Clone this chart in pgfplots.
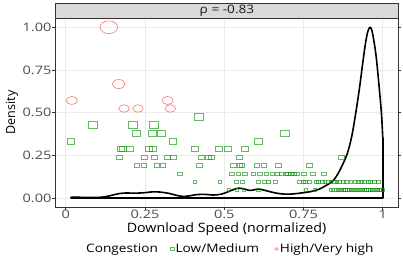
\documentclass[border=0pt]{standalone}
\usepackage{fontspec}
\setmainfont{Open Sans}
\newfontfamily\tickfont{Open Sans}[FakeStretch=1.25]
\newfontfamily\legfont{Open Sans}[FakeStretch=1.17]
\newfontfamily\labfont{Open Sans}[FakeStretch=1.1]
\usepackage{pgfplots}
\pgfplotsset{compat=1.18}
\definecolor{lowgreen}{RGB}{0,140,0}
\definecolor{highred}{RGB}{248,118,109}
\definecolor{gridgray}{RGB}{235,235,235}
\definecolor{ticktext}{RGB}{77,77,77}
\definecolor{stripfill}{RGB}{217,217,217}
\definecolor{bordergray}{RGB}{51,51,51}
\pgfplotsset{dotlegend/.style={legend image code/.code={\draw[##1] plot coordinates {(0bp,0bp)};}}}
\begin{document}
\begin{tikzpicture}
\useasboundingbox (-55bp,-55bp) rectangle (348bp,207bp);
\begin{axis}[
  scale only axis, width=343bp, height=189bp,
  xmin=-0.034, xmax=1.048, ymin=-0.053, ymax=1.054,
  xtick={0,0.25,0.5,0.75,1}, xticklabels={0,0.25,0.5,0.75,1},
  ytick={0,0.25,0.5,0.75,1}, yticklabels={0.00,0.25,0.50,0.75,1.00},
  /pgf/number format/assume math mode=true,
  tick align=outside, major tick length=3bp,
  tick style={bordergray, line width=0.6bp},
  axis line style={bordergray, line width=0.8bp},
  grid=major, major grid style={gridgray, line width=0.6bp},
  ticklabel style={font=\fontsize{11.7}{13}\tickfont, text=ticktext},
  xticklabel style={inner sep=0.5bp, yshift=0.3bp},
  yticklabel style={inner sep=1bp, xshift=0.7bp},
  xlabel={Download Speed (normalized)},
  ylabel={Density},
  xlabel style={at={(axis description cs:0.5,-0.115)}, anchor=center, inner sep=0bp, font=\fontsize{13}{14}\labfont},
  ylabel style={at={(axis description cs:-0.125,0.5)}, anchor=center, inner sep=0bp, font=\fontsize{12.6}{14}\selectfont},
  legend style={at={(axis description cs:0.336,-0.222)}, anchor=west, draw=none, fill=none,
    inner sep=0pt, outer sep=0pt, legend columns=2,
    font=\fontsize{11.7}{13}\legfont,
    nodes={inner sep=1.5bp},
    /tikz/every even column/.append style={column sep=14bp}},
]
% Low/Medium congestion points (y = normalized density level)
\addplot[scatter, only marks, mark=square, forget plot,
  mark options={xscale=1.38, line width=0.6bp},
  scatter/use mapped color={draw=lowgreen, draw opacity=0.6, fill opacity=0},
  visualization depends on={\thisrow{y} \as \ry},
  scatter/@pre marker code/.append style={/tikz/mark size={0.9+5.5*\ry}}]
table {
x y
0.420 0.476
0.085 0.429
0.210 0.429
0.278 0.429
0.223 0.381
0.273 0.381
0.301 0.381
0.691 0.381
0.016 0.333
0.338 0.333
0.607 0.333
0.173 0.286
0.179 0.286
0.202 0.286
0.262 0.286
0.275 0.286
0.406 0.286
0.483 0.286
0.512 0.286
0.565 0.286
0.169 0.238
0.247 0.238
0.278 0.238
0.321 0.238
0.338 0.238
0.428 0.238
0.451 0.238
0.458 0.238
0.546 0.238
0.870 0.238
0.225 0.190
0.247 0.190
0.288 0.190
0.307 0.190
0.421 0.190
0.528 0.190
0.549 0.190
0.556 0.190
0.602 0.190
0.625 0.190
0.670 0.190
0.768 0.190
0.360 0.143
0.523 0.143
0.544 0.143
0.565 0.143
0.591 0.143
0.612 0.143
0.633 0.143
0.652 0.143
0.667 0.143
0.680 0.143
0.696 0.143
0.700 0.143
0.710 0.143
0.719 0.143
0.729 0.143
0.751 0.143
0.779 0.143
0.813 0.143
0.407 0.095
0.486 0.095
0.539 0.095
0.558 0.095
0.607 0.095
0.625 0.095
0.638 0.095
0.662 0.095
0.738 0.095
0.748 0.095
0.757 0.095
0.767 0.095
0.789 0.095
0.798 0.095
0.808 0.095
0.817 0.095
0.827 0.095
0.836 0.095
0.846 0.095
0.855 0.095
0.864 0.095
0.875 0.095
0.886 0.095
0.899 0.095
0.914 0.095
0.922 0.095
0.932 0.095
0.942 0.095
0.953 0.095
0.962 0.095
0.972 0.095
0.985 0.095
0.514 0.048
0.539 0.048
0.562 0.048
0.607 0.048
0.756 0.048
0.785 0.048
0.835 0.048
0.843 0.048
0.852 0.048
0.858 0.048
0.864 0.048
0.870 0.048
0.876 0.048
0.882 0.048
0.888 0.048
0.894 0.048
0.900 0.048
0.906 0.048
0.912 0.048
0.918 0.048
0.924 0.048
0.930 0.048
0.936 0.048
0.942 0.048
0.948 0.048
0.954 0.048
0.960 0.048
0.966 0.048
0.972 0.048
0.978 0.048
0.984 0.048
0.990 0.048
0.995 0.048
1.000 0.048
};
% High/Very high congestion points
\addplot[scatter, only marks, mark=o, forget plot,
  mark options={xscale=1.38, line width=0.6bp},
  scatter/use mapped color={draw=highred, fill opacity=0},
  visualization depends on={\thisrow{y} \as \ry},
  scatter/@pre marker code/.append style={/tikz/mark size={0.9+5.5*\ry}}]
table {
x y
0.019 0.571
0.136 1.000
0.167 0.667
0.184 0.524
0.228 0.524
0.321 0.571
0.330 0.524
};
% density outline
\addplot[black, line width=1.6bp, smooth, tension=0.5, line join=round, forget plot] coordinates {
(0.016,0.005) (0.04,0.004) (0.08,0.003) (0.11,0.004) (0.13,0.009) (0.15,0.018)
(0.17,0.026) (0.19,0.029) (0.22,0.028) (0.25,0.031) (0.275,0.036) (0.30,0.034)
(0.325,0.027) (0.35,0.015) (0.37,0.009) (0.39,0.012) (0.41,0.019) (0.44,0.021)
(0.465,0.017) (0.49,0.022) (0.51,0.035) (0.53,0.050) (0.545,0.057) (0.56,0.054)
(0.58,0.044) (0.595,0.048) (0.607,0.052) (0.625,0.046) (0.65,0.034) (0.675,0.025)
(0.70,0.022) (0.725,0.025) (0.75,0.031) (0.775,0.038) (0.80,0.052) (0.82,0.072)
(0.843,0.100) (0.858,0.140) (0.872,0.190) (0.888,0.260) (0.902,0.360) (0.915,0.500)
(0.927,0.650) (0.936,0.780) (0.945,0.900) (0.952,0.970) (0.959,1.000) (0.965,0.985)
(0.972,0.920) (0.979,0.830) (0.984,0.740) (0.990,0.620) (0.996,0.490) (1.000,0.350)
};
\addplot[black, line width=1.6bp, line join=round, forget plot] coordinates {
(1.000,0.350) (1.000,0) (0.016,0) (0.016,0.005)
};
\addlegendimage{only marks, mark=square, mark size=1.4bp, draw=lowgreen, draw opacity=0.6,
  mark options={xscale=1.38, line width=0.6bp}, dotlegend}
\addlegendentry{Low/Medium}
\addlegendimage{only marks, mark=o, mark size=1.4bp, draw=highred,
  mark options={xscale=1.38, line width=0.6bp}, dotlegend}
\addlegendentry{High/Very high}
\end{axis}
\draw[fill=stripfill, draw=bordergray, line width=0.8bp] (0bp,189bp) rectangle (343bp,204bp);
\node[text=black!90, font=\fontsize{11.7}{13}\legfont, anchor=center] at (172bp,196.5bp) {ρ = -0.83};
\node[font=\fontsize{11.7}{13}\legfont, anchor=base west, inner sep=0pt] at (31bp,-45.7bp) {Congestion};
\end{tikzpicture}
\end{document}
